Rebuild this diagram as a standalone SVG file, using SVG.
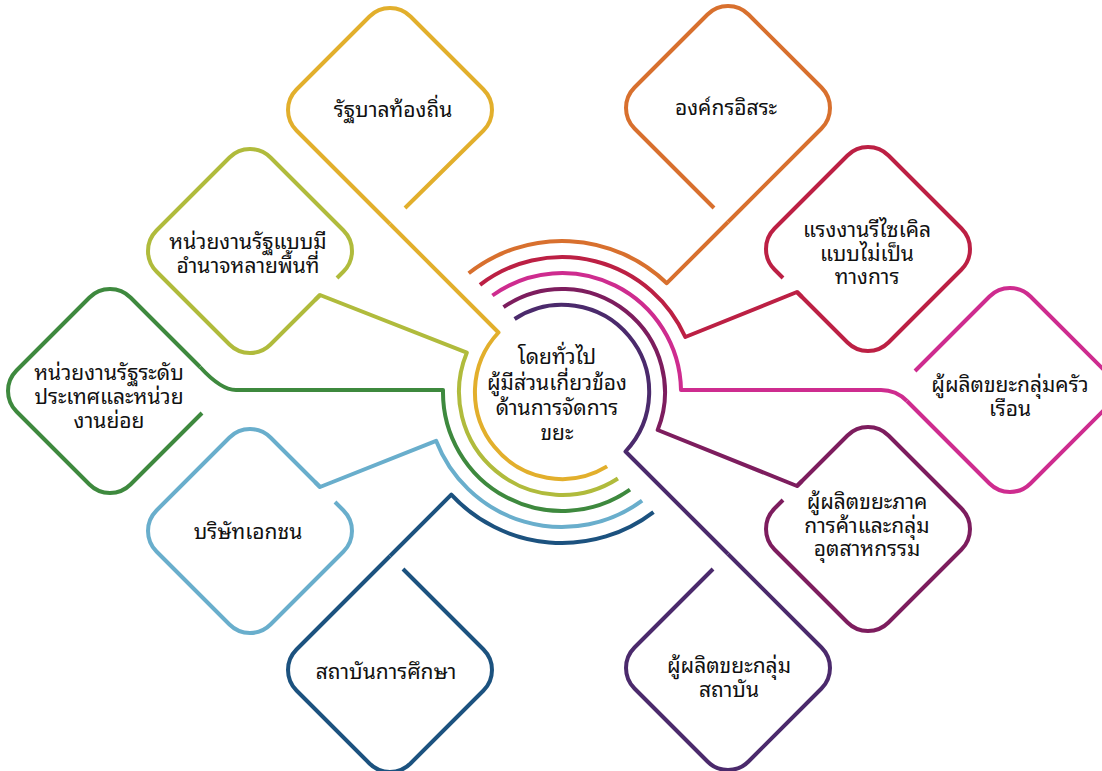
<svg xmlns="http://www.w3.org/2000/svg" width="1102" height="771" viewBox="0 0 1102 771">
<style>
.o{fill:none;stroke-width:4;stroke-linejoin:round}
.yl{stroke:#E2AF2C}.og{stroke:#D8702E}.lg{stroke:#B0BB3C}.gr{stroke:#3E893E}.lb{stroke:#69AECC}
.db{stroke:#1C527F}.pu{stroke:#4B2A6C}.dm{stroke:#7D1D5E}.pk{stroke:#CE2C8F}.cr{stroke:#BC2044}
.t{font-family:"Noto Sans Thai Looped","Leelawadee UI",Tahoma,Loma,Garuda,"Noto Sans Thai","Noto Sans","DejaVu Sans",sans-serif;font-size:21px;font-weight:normal;fill:#111111;text-anchor:middle}
</style>
<rect width="1102" height="771" fill="#ffffff"/>
<g id="connectors">
<path class="o yl" d="M390 224 L498.5 332.5 A87 87 0 0 0 607.1 466.4"/>
<path class="o og" d="M728 222 L666.8 283.2 A151 151 0 0 0 468.7 273.3"/>
<path class="o lg" d="M315 300 L320 295 L466.8 352.7 A103 103 0 0 0 617.9 478.5"/>
<path class="o gr" d="M200 367 Q221 390 236 390 L443 390 A119 119 0 0 0 630 489.7"/>
<path class="o lb" d="M315 482 L320 487 L436.1 440.8 A135 135 0 0 0 642.1 500.7"/>
<path class="o db" d="M390 556 L451.3 494.7 A151 151 0 0 0 653.5 512.1"/>
<path class="o pu" d="M728 554 L625.5 451.5 A87 87 0 0 0 514.6 319"/>
<path class="o dm" d="M802 481 L797 486 L657.7 430 A103 103 0 0 0 503.5 307.2"/>
<path class="o pk" d="M907 401 Q896 390 881 390 L681 390 A119 119 0 0 0 492.4 295.5"/>
<path class="o cr" d="M802 297 L797 292 L685.3 337 A135 135 0 0 0 480 284.8"/>
</g>
<g id="node-local-gov">
<path class="o yl" d="M405 208 L483.5 130.5 A29 29 0 0 0 483.5 89.5 L410.5 16.5 A29 29 0 0 0 369.5 16.5 L296.5 89.5 A29 29 0 0 0 296.5 130.5 L390 224"/>
<text class="t" x="393" y="117">รัฐบาลท้องถิ่น</text>
</g>
<g id="node-independent">
<path class="o og" d="M714 208 L634.5 128.5 A29 29 0 0 1 634.5 87.5 L707.5 14.5 A29 29 0 0 1 748.5 14.5 L821.5 87.5 A29 29 0 0 1 821.5 128.5 L728 222"/>
<text class="t" x="726" y="115">องค์กรอิสระ</text>
</g>
<g id="node-multi-area">
<path class="o lg" d="M337 278 L343.5 271.5 A29 29 0 0 0 343.5 230.5 L270.5 157.5 A29 29 0 0 0 229.5 157.5 L156.5 230.5 A29 29 0 0 0 156.5 271.5 L229.5 344.5 A29 29 0 0 0 270.5 344.5 L320 295"/>
<text class="t" x="248" y="249"><tspan x="248">หน่วยงานรัฐแบบมี</tspan><tspan x="248" dy="24">อำนาจหลายพื้นที่</tspan></text>
</g>
<g id="node-national">
<path class="o gr" d="M202 413 L130.5 484.5 A29 29 0 0 1 89.5 484.5 L16.5 411.5 A29 29 0 0 1 16.5 370.5 L89.5 297.5 A29 29 0 0 1 130.5 297.5 L200 367"/>
<text class="t" x="109" y="380"><tspan x="109">หน่วยงานรัฐระดับ</tspan><tspan x="109" dy="24">ประเทศและหน่วย</tspan><tspan x="109" dy="24">งานย่อย</tspan></text>
</g>
<g id="node-private">
<path class="o lb" d="M335 502 L343.5 510.5 A29 29 0 0 1 343.5 551.5 L270.5 624.5 A29 29 0 0 1 229.5 624.5 L156.5 551.5 A29 29 0 0 1 156.5 510.5 L229.5 437.5 A29 29 0 0 1 270.5 437.5 L320 487"/>
<text class="t" x="248" y="539">บริษัทเอกชน</text>
</g>
<g id="node-education">
<path class="o db" d="M403 569 L483.5 649.5 A29 29 0 0 1 483.5 690.5 L410.5 763.5 A29 29 0 0 1 369.5 763.5 L296.5 690.5 A29 29 0 0 1 296.5 649.5 L390 556"/>
<text class="t" x="386" y="679">สถาบันการศึกษา</text>
</g>
<g id="node-institution">
<path class="o pu" d="M713 569 L634.5 647.5 A29 29 0 0 0 634.5 688.5 L707.5 761.5 A29 29 0 0 0 748.5 761.5 L821.5 688.5 A29 29 0 0 0 821.5 647.5 L728 554"/>
<text class="t" x="729" y="673"><tspan x="729">ผู้ผลิตขยะกลุ่ม</tspan><tspan x="729" dy="24">สถาบัน</tspan></text>
</g>
<g id="node-commerce">
<path class="o dm" d="M783 500 L774.5 508.5 A29 29 0 0 0 774.5 549.5 L847.5 622.5 A29 29 0 0 0 888.5 622.5 L961.5 549.5 A29 29 0 0 0 961.5 508.5 L888.5 435.5 A29 29 0 0 0 847.5 435.5 L797 486"/>
<text class="t" x="867" y="509"><tspan x="867">ผู้ผลิตขยะภาค</tspan><tspan x="867" dy="23.5">การค้าและกลุ่ม</tspan><tspan x="867" dy="23.5">อุตสาหกรรม</tspan></text>
</g>
<g id="node-household">
<path class="o pk" d="M915 371 L989.5 296.5 A29 29 0 0 1 1030.5 296.5 L1103.5 369.5 A29 29 0 0 1 1103.5 410.5 L1030.5 483.5 A29 29 0 0 1 989.5 483.5 L907 401"/>
<text class="t" x="1010" y="392"><tspan x="1010">ผู้ผลิตขยะกลุ่มครัว</tspan><tspan x="1010" dy="23.5">เรือน</tspan></text>
</g>
<g id="node-informal">
<path class="o cr" d="M783 278 L774.5 269.5 A29 29 0 0 1 774.5 228.5 L847.5 155.5 A29 29 0 0 1 888.5 155.5 L961.5 228.5 A29 29 0 0 1 961.5 269.5 L888.5 342.5 A29 29 0 0 1 847.5 342.5 L797 292"/>
<text class="t" x="867" y="237"><tspan x="867">แรงงานรีไซเคิล</tspan><tspan x="867" dy="23.5">แบบไม่เป็น</tspan><tspan x="867" dy="23.5">ทางการ</tspan></text>
</g>
<g id="node-center">
<text class="t" x="557" y="364"><tspan x="557">โดยทั่วไป</tspan><tspan x="557" dy="25.5">ผู้มีส่วนเกี่ยวข้อง</tspan><tspan x="557" dy="25">ด้านการจัดการ</tspan><tspan x="557" dy="25">ขยะ</tspan></text>
</g>
</svg>
